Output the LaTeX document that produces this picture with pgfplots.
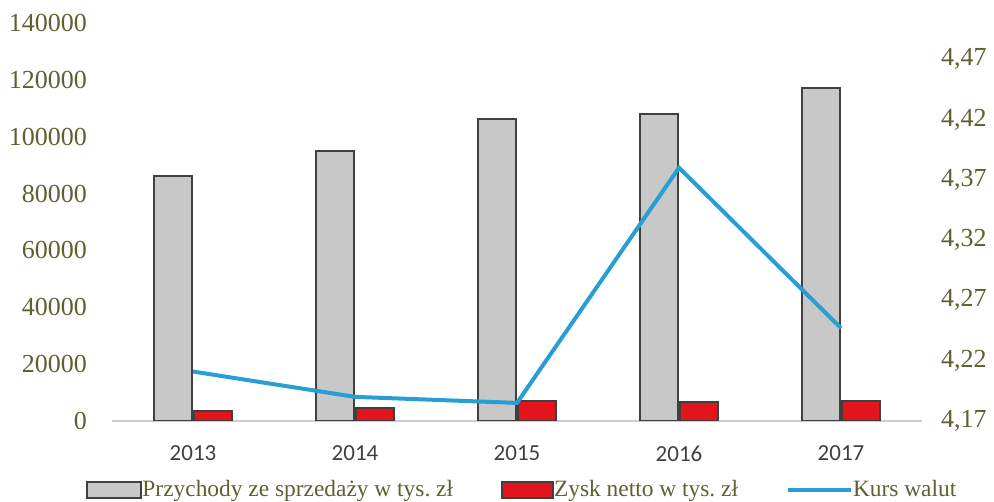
\documentclass[border=0pt]{standalone}
\usepackage{fontspec}
\setmainfont{Liberation Serif}
\newfontfamily\carl{Carlito}
\usepackage{pgfplots}
\pgfplotsset{compat=1.18}
\definecolor{olivetxt}{RGB}{95,95,50}
\definecolor{barg}{RGB}{200,200,200}
\definecolor{barr}{RGB}{228,20,28}
\definecolor{linec}{RGB}{40,158,212}
\begin{document}
\frenchspacing
\begin{tikzpicture}
\begin{axis}[
  width=405pt, height=199pt, scale only axis,
  at={(0,0)}, anchor=south west,
  xmin=-0.5, xmax=4.5, ymin=0, ymax=140000,
  scaled y ticks=false,
  xtick={0,1,2,3,4}, xticklabels={2013,2014,2015,2016,2017},
  ytick={0,20000,40000,60000,80000,100000,120000,140000},
  yticklabels={0,20000,40000,60000,80000,100000,120000,140000},
  axis y line*=left, axis x line*=bottom,
  y axis line style={draw=none},
  x axis line style={draw=black!20, line width=0.8pt, -},
  major tick length=0pt,
  yticklabel style={font=\fontsize{13}{15}\selectfont, text=olivetxt, xshift=-9pt},
  xticklabel style={font=\carl\fontsize{11.5}{13}\selectfont, text=black!75, yshift=-9pt},
  ybar=1pt, bar width=19pt,
  legend style={at={(-0.032,-0.173)}, anchor=west, draw=none, fill=none, inner sep=0pt,
    font=\fontsize{11.7}{14}\selectfont, text=olivetxt, legend columns=3,
    /tikz/every even column/.append style={column sep=22pt},
    /tikz/every odd column/.append style={column sep=-2pt}},
  legend cell align=left,
]
\addplot[fill=barg, draw=black!75, line width=1pt,
  legend image code/.code={\draw[fill=barg, draw=black!75, line width=1pt] (0pt,-4pt) rectangle (27pt,4pt);}]
  coordinates {(0,86350) (1,94870) (2,106240) (3,107840) (4,117260)};
\addlegendentry{Przychody ze sprzedaży w tys. zł}
\addplot[fill=barr, draw=black!75, line width=1pt,
  legend image code/.code={\draw[fill=barr, draw=black!75, line width=1pt] (0pt,-4pt) rectangle (25.5pt,4pt);}]
  coordinates {(0,3400) (1,4400) (2,7000) (3,6700) (4,7000)};
\addlegendentry{Zysk netto w tys. zł}
\addlegendimage{legend image code/.code={\draw[linec, line width=2pt] (0pt,0pt) -- (31.5pt,0pt);}}
\addlegendentry{Kurs walut}
\end{axis}
\begin{axis}[
  width=405pt, height=199pt, scale only axis,
  at={(0,0)}, anchor=south west,
  xmin=-0.5, xmax=4.5, ymin=4.17, ymax=4.50,
  axis y line*=right, axis x line=none,
  y axis line style={draw=none},
  major tick length=0pt,
  ytick={4.17,4.22,4.27,4.32,4.37,4.42,4.47},
  yticklabels={{4,17},{4,22},{4,27},{4,32},{4,37},{4,42},{4,47}},
  yticklabel style={font=\fontsize{13}{15}\selectfont, text=olivetxt, xshift=6pt},
]
\addplot[line width=2pt, color=linec, mark=none]
  coordinates {(0,4.211) (1,4.190) (2,4.185) (3,4.380) (4,4.247)};
\end{axis}
\pgfresetboundingbox
\useasboundingbox (-56pt,-40.5pt) rectangle (441pt,210.5pt);
\end{tikzpicture}
\end{document}
